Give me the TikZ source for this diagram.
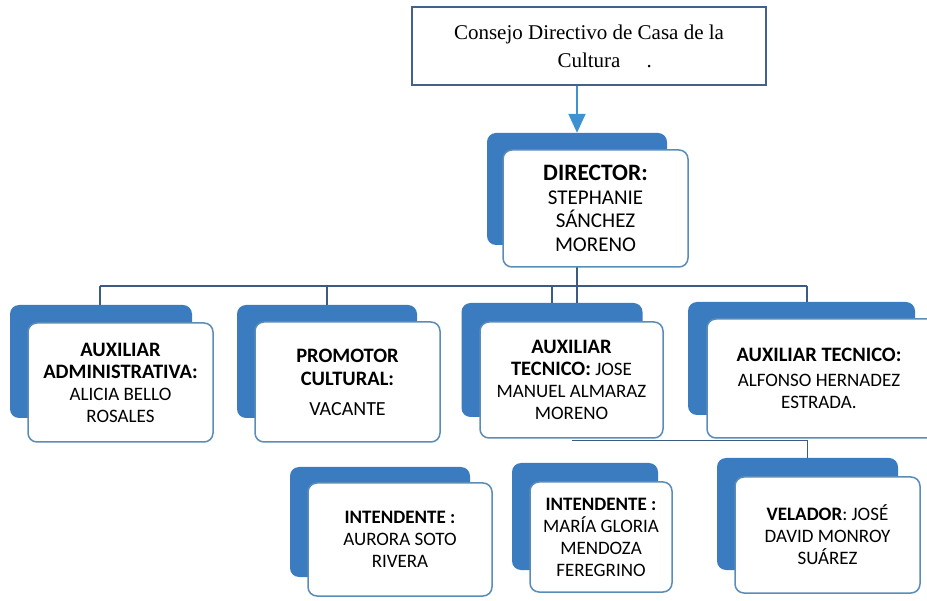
\documentclass[tikz,border=0pt]{standalone}
\usepackage{fontspec}
\setmainfont{Carlito}
\newfontfamily\timesf{Liberation Serif}
\usetikzlibrary{calc,arrows.meta,backgrounds}
\definecolor{cardblue}{HTML}{3B7BC0}
\definecolor{cardedge}{HTML}{5A8CB8}
\definecolor{linec}{HTML}{3C5A82}
\definecolor{topedge}{HTML}{44608C}
\definecolor{arrowc}{HTML}{3F92D2}
\newcommand{\hdb}[1]{{\fontsize{20.5}{22}\selectfont\bfseries #1}}
\tikzset{
  backcard/.style={fill=cardblue, draw=none, rounded corners=9pt, inner sep=0pt},
  frontcard/.style={fill=white, draw=cardedge, line width=1.5pt, rounded corners=9pt,
    align=center, inner sep=0pt, font=\fontsize{19}{22}\selectfont},
  cardtext/.style={align=center, inner sep=0pt, font=\fontsize{19}{22}\selectfont},
  conn/.style={draw=linec, line width=1.3pt},
}
\begin{document}
\begin{tikzpicture}[x=1pt,y=-1pt]
\useasboundingbox (0,0) rectangle (927,601);
% top box
\node[draw=topedge, line width=2pt, fill=white, minimum width=354pt, minimum height=78pt,
  align=center, font=\timesf\fontsize{21}{28}\selectfont] (top) at (589,46)
  {Consejo Directivo de Casa de la\\Cultura\rlap{\hspace{26pt}.}};
% director
\node[backcard, minimum width=180pt, minimum height=112pt] (db) at (577,189) {};
\node[frontcard, minimum width=185pt, minimum height=117pt, font=\fontsize{21}{23.5}\selectfont] (d) at (595.5,208.5)
  {{\fontsize{23.5}{24}\selectfont\bfseries DIRECTOR:}\\STEPHANIE\\SÁNCHEZ\\MORENO};
% row 1
\node[backcard, minimum width=182pt, minimum height=113pt] (b1b) at (101,361.5) {};
\node[frontcard, minimum width=185pt, minimum height=119pt] (b1) at (120.5,382.5)
  {\hdb{AUXILIAR}\\\hdb{ADMINISTRATIVA:}\\ALICIA BELLO\\ROSALES};
\node[backcard, minimum width=180pt, minimum height=113pt] (b2b) at (327,361.5) {};
\node[frontcard, minimum width=185pt, minimum height=120pt] (b2) at (347.5,382)
  {\hdb{PROMOTOR}\\[1pt]\hdb{CULTURAL:}\\[8pt]{\fontsize{20}{22}\selectfont VACANTE}};
\node[backcard, minimum width=181pt, minimum height=114pt] (b3b) at (552,360) {};
\node[frontcard, minimum width=183pt, minimum height=116pt] (b3) at (571.5,380)
  {\hdb{AUXILIAR}\\\hdb{TECNICO:} JOSE\\MANUEL ALMARAZ\\MORENO};
\node[backcard, minimum width=227pt, minimum height=113pt] (b4b) at (801.5,358.5) {};
\node[frontcard, minimum width=250pt, minimum height=119pt] (b4) at (832,378.5) {};
\node[cardtext] (b4t) at (819,378.5)
  {\hdb{AUXILIAR TECNICO:}\\[3pt]ALFONSO HERNADEZ\\ESTRADA.};
% row 2
\node[backcard, minimum width=180pt, minimum height=110pt] (b5b) at (380,522) {};
\node[frontcard, minimum width=184pt, minimum height=113pt] (b5) at (400,539.5)
  {\textbf{INTENDENTE :}\\AURORA SOTO\\RIVERA};
\node[backcard, minimum width=146pt, minimum height=107pt] (b6b) at (585,516.5) {};
\node[frontcard, minimum width=142pt, minimum height=110pt] (b6) at (601,537)
  {\textbf{INTENDENTE :}\\MARÍA GLORIA\\MENDOZA\\FEREGRINO};
\node[backcard, minimum width=181pt, minimum height=112pt] (b7b) at (807.5,514) {};
\node[frontcard, minimum width=185pt, minimum height=116pt] (b7) at (827.5,535)
  {\textbf{VELADOR}: JOSÉ\\DAVID MONROY\\SUÁREZ};
% connectors
\coordinate (j1) at (100,286);
\coordinate (j4) at (807,286);
\draw[arrowc, line width=2pt, -{Triangle[width=17pt,length=19pt]}] (top.south -| db.north) -- (db.north);
\begin{scope}[on background layer]
\draw[conn] (j1) -- (j4);
\draw[conn] (j1) -- (j1 |- b1b.north);
\draw[conn] (b2b.north) -- (b2b.north |- j1);
\draw[conn] (b3b.north) -- (b3b.north |- j1);
\draw[conn] (db.south) -- (db.south |- b3b.north);
\draw[conn] (j4) -- (j4 |- b4b.north);
\draw[conn] ($(b3.south)+(0,2)$) -| (b7b.north);
\end{scope}
\end{tikzpicture}
\end{document}
